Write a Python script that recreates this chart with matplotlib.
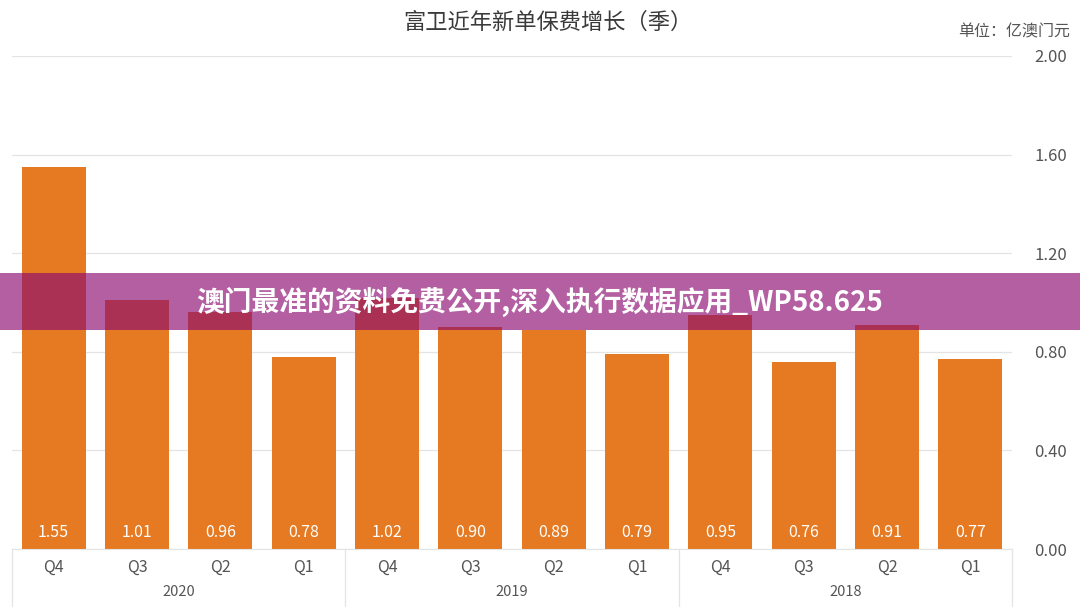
import matplotlib.pyplot as plt
from matplotlib.patches import Rectangle
import matplotlib.transforms as mtransforms

plt.rcParams['font.family'] = ['Noto Sans CJK SC', 'DejaVu Sans']

# 数据（按图中从左到右的顺序）
quarters = ['Q4', 'Q3', 'Q2', 'Q1'] * 3
years = ['2020', '2019', '2018']
values = [1.55, 1.01, 0.96, 0.78, 1.02, 0.90, 0.89, 0.79, 0.95, 0.76, 0.91, 0.77]
yticks = [0.0, 0.4, 0.8, 1.2, 1.6, 2.0]
ytick_labels = ['0.00', '0.40', '0.80', '1.20', '1.60', '2.00']

title = '富卫近年新单保费增长（季）'
unit = '单位：亿澳门元'
banner = '澳门最准的资料免费公开,深入执行数据应用_WP58.625'

orange = '#E67A22'
grey_txt = '#555555'
line_c = '#e4e4e4'

fig = plt.figure(figsize=(10.8, 6.07), dpi=100)
ax = fig.add_axes([12 / 1080, 1 - 549 / 607, 1000 / 1080, 493 / 607])

x = list(range(len(values)))
ax.bar(x, values, width=0.77, color=orange, zorder=2)

# 柱内数值
for xi, v in zip(x, values):
    ax.text(xi, 0.065, f'{v:.2f}', color='white', ha='center', va='center',
            fontsize=11.5, zorder=3)

ax.set_xlim(-0.5, len(values) - 0.5)
ax.set_ylim(0, 2.0)

# 右侧 y 轴
ax.yaxis.tick_right()
ax.set_yticks(yticks)
ax.set_yticklabels(ytick_labels, fontsize=12, color=grey_txt)
ax.tick_params(axis='y', length=0, pad=16)
ax.grid(axis='y', color=line_c, linewidth=0.9, zorder=0)

# x 轴季度
ax.set_xticks(x)
ax.set_xticklabels(quarters, fontsize=11.5, color=grey_txt)
ax.tick_params(axis='x', length=0, pad=7)

for s in ['top', 'left', 'right']:
    ax.spines[s].set_visible(False)
ax.spines['bottom'].set_color(line_c)

# 年份分组
trans = mtransforms.blended_transform_factory(ax.transData, ax.transAxes)
for b in [-0.5, 3.5, 7.5, 11.5]:
    ax.plot([b, b], [0, -0.115], transform=trans, color=line_c, lw=0.9, clip_on=False)
for i, yr in enumerate(years):
    ax.text(i * 4 + 1.5, -0.088, yr, transform=trans, ha='center', va='center',
            fontsize=10.5, color=grey_txt)

# 标题与单位
fig.text(548 / 1080, 1 - 22 / 607, title, ha='center', va='center', fontsize=16,
         fontweight='medium', color='#3a3a3a')
fig.text(1070 / 1080, 1 - 32 / 607, unit, ha='right', va='center', fontsize=11.5, color=grey_txt)

# 紫色横幅
fig.patches.append(Rectangle((0, 1 - 330 / 607), 1, 57 / 607, transform=fig.transFigure,
                             facecolor='#8A0A70', alpha=0.65, edgecolor='none', zorder=5))
fig.text(540 / 1080, 1 - 302 / 607, banner, ha='center', va='center', fontsize=20,
         fontweight='heavy', color='white', zorder=6)

fig.savefig('out.png', dpi=100)
